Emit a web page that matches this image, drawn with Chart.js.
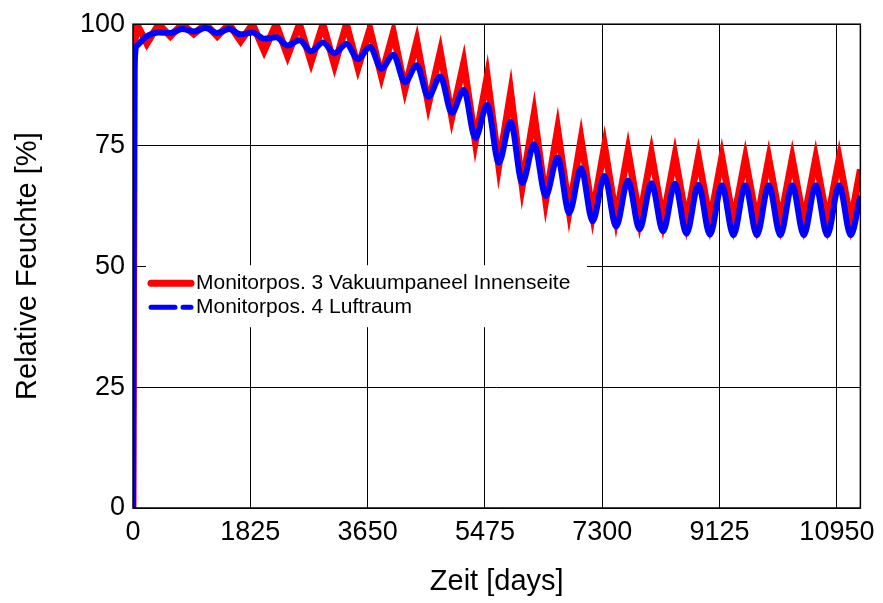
<!DOCTYPE html>
<html>
<head>
<meta charset="utf-8">
<script src="https://cdn.jsdelivr.net/npm/chart.js@4.4.1/dist/chart.umd.min.js"></script>
<style>
  html, body { margin: 0; padding: 0; background: #fff; }
  canvas { display: block; }
</style>
</head>
<body>
<canvas id="feuchteChart" width="883" height="603"></canvas>
<script>
// Zeitachse (Tage) und Achsenbeschriftung
const tickDays = [0, 1825, 3650, 5475, 7300, 9125, 10950];
const yTicks = [0, 25, 50, 75, 100];

// Stützstellen: Anstieg, dann je Jahr Maximum (365n+35) und Minimum (365n+215)
const days = [
    0, 20, 60, 215,
    400, 580, 765, 945, 1130, 1310, 1495, 1675, 1860, 2040,
    2225, 2405, 2590, 2770, 2955, 3135, 3320, 3500, 3685, 3865,
    4050, 4230, 4415, 4595, 4780, 4960, 5145, 5325, 5510, 5690,
    5875, 6055, 6240, 6420, 6605, 6785, 6970, 7150, 7335, 7515,
    7700, 7880, 8065, 8245, 8430, 8610, 8795, 8975, 9160, 9340,
    9525, 9705, 9890, 10070, 10255, 10435, 10620, 10800, 10985, 11165,
    11315
];

// Monitorpos. 3 Vakuumpaneel Innenseite
const rhPos3 = [
    0, 95, 100, 96,
    100, 97.5, 100, 98, 100, 97.5, 100, 96.5, 100, 94.5,
    100, 93.5, 100, 92.2, 100, 91.5, 100, 91, 99, 89.3,
    98.3, 86.6, 96.5, 83.5, 94.3, 80.8, 92, 75.7, 89.2, 70.8,
    85.9, 66.6, 81.4, 63.6, 78.3, 61.5, 76.2, 60.8, 74.8, 60,
    73.8, 59.7, 73.2, 59.5, 72.8, 59.3, 72.5, 59.2, 72.5, 59.2,
    72.2, 59.2, 72.2, 59.2, 72.2, 59.2, 72.2, 59.2, 72.2, 59.2,
    70
];

// Monitorpos. 4 Luftraum
const rhPos4 = [
    0, 90, 95.5, 97.5,
    98.3, 98.2, 99, 98.5, 99.2, 98.2, 99, 97.9, 98.3, 97,
    97.3, 95.6, 96.7, 94.4, 96.2, 94, 95.9, 92.8, 95.3, 90.8,
    93.7, 88, 91.5, 85, 89.2, 81.7, 86.4, 76.5, 83.3, 71.4,
    79.8, 67.2, 75.2, 64.5, 72.4, 61, 70.2, 59.3, 68.6, 58.2,
    67.7, 57.6, 67.1, 57.2, 67, 56.7, 66.8, 56.5, 66.7, 56.4,
    66.7, 56.4, 66.7, 56.4, 66.7, 56.4, 66.7, 56.4, 66.7, 56.4,
    64.5
];

const seriesLabels = ['Monitorpos. 3 Vakuumpaneel Innenseite', 'Monitorpos. 4 Luftraum'];

const toPoints = (values) => values.map((v, i) => ({ x: days[i], y: v }));

// Rahmen um den Plotbereich
const framePlugin = {
    id: 'frame',
    afterDraw(chart) {
        const { ctx, chartArea: a } = chart;
        ctx.save();
        ctx.strokeStyle = '#000';
        ctx.lineWidth = 1.5;
        ctx.strokeRect(a.left, a.top, a.right - a.left, a.bottom - a.top);
        ctx.restore();
    }
};

// Legende innerhalb des Plotbereichs (wie im Original)
const insideLegend = {
    id: 'insideLegend',
    afterDraw(chart) {
        const { ctx, chartArea: a } = chart;
        const x0 = a.left + 13;
        const y0 = a.top + 241;
        ctx.save();
        ctx.fillStyle = '#fff';
        ctx.fillRect(x0, y0, 441, 62);

        ctx.lineCap = 'round';
        ctx.strokeStyle = '#ff0000';
        ctx.lineWidth = 7;
        ctx.beginPath();
        ctx.moveTo(x0 + 5, y0 + 18);
        ctx.lineTo(x0 + 45, y0 + 18);
        ctx.stroke();

        ctx.strokeStyle = '#0000ff';
        ctx.lineWidth = 5;
        ctx.setLineDash([24, 8]);
        ctx.beginPath();
        ctx.moveTo(x0 + 5, y0 + 42);
        ctx.lineTo(x0 + 45, y0 + 42);
        ctx.stroke();
        ctx.setLineDash([]);

        ctx.fillStyle = '#000';
        ctx.font = '21px "Liberation Sans", Arial, sans-serif';
        ctx.textBaseline = 'middle';
        ctx.fillText(seriesLabels[0], x0 + 50, y0 + 18);
        ctx.fillText(seriesLabels[1], x0 + 50, y0 + 42);
        ctx.restore();
    }
};

const tickFont = { family: '"Liberation Sans", Arial, sans-serif', size: 27 };
const titleFont = { family: '"Liberation Sans", Arial, sans-serif', size: 29 };

new Chart(document.getElementById('feuchteChart'), {
    type: 'line',
    data: {
        datasets: [
            {
                label: seriesLabels[0],
                data: toPoints(rhPos3),
                borderColor: '#ff0000',
                borderWidth: 7,
                tension: 0,
                pointRadius: 0,
                order: 2,
                clip: 0
            },
            {
                label: seriesLabels[1],
                data: toPoints(rhPos4),
                borderColor: '#0000ff',
                borderWidth: 6,
                cubicInterpolationMode: 'monotone',
                pointRadius: 0,
                order: 1,
                clip: 0
            }
        ]
    },
    plugins: [framePlugin, insideLegend],
    options: {
        responsive: false,
        animation: false,
        layout: { padding: { left: 0, top: 22, right: 17, bottom: 0 } },
        plugins: {
            legend: { display: false },
            tooltip: { enabled: false }
        },
        scales: {
            x: {
                type: 'linear',
                min: 0,
                max: 11315,
                z: 1,
                afterBuildTicks: (scale) => {
                    scale.ticks = tickDays.map(v => ({ value: v }));
                },
                afterFit: (scale) => { scale.height = 95; },
                grid: { color: '#000', lineWidth: 1, drawTicks: false },
                border: { display: false },
                ticks: {
                    color: '#000',
                    font: tickFont,
                    padding: 8,
                    maxRotation: 0,
                    autoSkip: false,
                    callback: (v) => String(v)
                },
                title: {
                    display: true,
                    text: 'Zeit [days]',
                    color: '#000',
                    font: titleFont,
                    padding: { top: 0, bottom: 4 }
                }
            },
            y: {
                min: 0,
                max: 100,
                z: 1,
                afterBuildTicks: (scale) => {
                    scale.ticks = yTicks.map(v => ({ value: v }));
                },
                afterFit: (scale) => { scale.width = 133; },
                grid: { color: '#000', lineWidth: 1, drawTicks: false },
                border: { display: false },
                ticks: {
                    color: '#000',
                    font: tickFont,
                    padding: 8,
                    callback: (v) => String(v)
                },
                title: {
                    display: true,
                    text: 'Relative Feuchte [%]',
                    color: '#000',
                    font: titleFont,
                    padding: { top: 11, bottom: 0 }
                }
            }
        }
    }
});
</script>
</body>
</html>
